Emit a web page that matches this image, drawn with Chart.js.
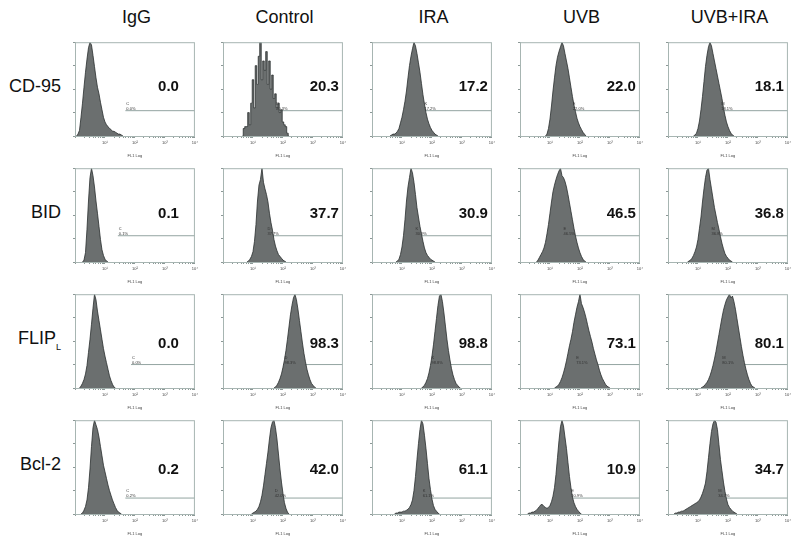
<!DOCTYPE html>
<html>
<head>
<meta charset="utf-8">
<script src="https://cdn.jsdelivr.net/npm/chart.js@4.4.1/dist/chart.umd.min.js"></script>
<style>
  body { margin: 0; background: #fff; }
  #fig { position: relative; width: 800px; height: 540px; font-family: "Liberation Sans", Arial, sans-serif; color: #111; }
  .head { position: absolute; top: 7px; width: 123px; text-align: center; font-size: 18px; line-height: 20px; }
  .rowlab { position: absolute; left: 0; width: 61px; text-align: right; font-size: 18px; line-height: 20px; }
  .rowlab sub { font-size: 9px; vertical-align: -6px; }
  canvas { position: absolute; }
</style>
</head>
<body>
<div id="fig"></div>
<script>
//------------------------ DATA ----------------------------

const columns = ["IgG", "Control", "IRA", "UVB", "UVB+IRA"];
const rowLabels = ["CD-95", "BID", "FLIP<sub>L</sub>", "Bcl-2"];
const gateMarkers = ["C", "D", "K", "E", "M"];

// width of one histogram channel, in log10(FL1) units
const binStep = 0.05;

// percent positive cells (big numbers)
const cd95Pct = ["0.0", "20.3", "17.2", "22.0", "18.1"];
const bidPct = ["0.1", "37.7", "30.9", "46.5", "36.8"];
const flipPct = ["0.0", "98.3", "98.8", "73.1", "80.1"];
const bcl2Pct = ["0.2", "42.0", "61.1", "10.9", "34.7"];

// where the positive gate begins (log10 FL1)
const cd95Gate = [1.68, 1.74, 1.72, 1.73, 1.74];
const bidGate = [1.43, 1.45, 1.42, 1.42, 1.42];
const flipGate = [1.87, 2.02, 1.95, 1.84, 1.78];
const bcl2Gate = [1.68, 1.69, 1.66, 1.68, 1.64];
// gate marker height per row (% of max count)
const gateLevel = [27, 28, 25, 17];

// first channel of each histogram (log10 FL1)
const cd95Start = [0.10, 0.70, 0.65, 0.90, 0.90];
const bidStart = [0.30, 0.85, 0.85, 0.60, 0.70];
const flipStart = [0.20, 1.75, 1.70, 1.20, 1.15];
const bcl2Start = [0.25, 1.00, 0.80, 0.30, 0.25];

// counts per channel (% of max count)
const cd95Counts = [
  [2, 6, 20, 35, 52, 68, 82, 94, 100, 97, 86, 74, 62, 52, 45, 36, 28, 20, 15, 12, 10, 8, 7, 5, 5, 4, 3, 2, 2, 1],
  [8, 10, 10, 25, 12, 35, 60, 30, 75, 55, 85, 100, 60, 80, 70, 90, 55, 80, 50, 65, 40, 45, 30, 35, 25, 28, 15, 12, 10, 3],
  [1, 2, 2, 3, 5, 8, 14, 20, 28, 37, 48, 62, 75, 85, 93, 100, 96, 88, 78, 68, 56, 44, 34, 25, 18, 13, 9, 6, 4, 2, 1],
  [2, 8, 18, 32, 48, 62, 75, 84, 90, 95, 100, 96, 88, 80, 72, 62, 52, 42, 33, 26, 19, 14, 10, 7, 4, 2],
  [1, 3, 8, 16, 28, 42, 58, 74, 86, 95, 100, 96, 88, 80, 72, 64, 56, 48, 40, 30, 22, 15, 10, 6, 3, 1],
];
const bidCounts = [
  [2, 10, 35, 65, 90, 100, 92, 80, 65, 52, 38, 24, 13, 7, 3, 1],
  [1, 3, 6, 11, 22, 40, 65, 82, 88, 100, 85, 78, 72, 64, 52, 42, 34, 24, 17, 12, 8, 6, 4, 2, 1],
  [1, 3, 8, 16, 28, 45, 65, 80, 90, 100, 95, 85, 72, 58, 48, 38, 30, 22, 15, 10, 7, 5, 3, 2, 1],
  [2, 5, 8, 11, 15, 21, 30, 40, 52, 64, 75, 82, 88, 93, 97, 100, 92, 90, 86, 80, 72, 63, 54, 45, 36, 28, 21, 15, 10, 6, 3, 1],
  [1, 2, 4, 7, 11, 16, 24, 36, 48, 64, 78, 90, 98, 100, 88, 78, 68, 58, 50, 42, 35, 27, 20, 14, 9, 6, 4, 2, 1],
];
const flipCounts = [
  [2, 5, 9, 15, 24, 38, 52, 68, 85, 100, 94, 82, 72, 62, 52, 42, 34, 27, 20, 13, 8, 4, 1],
  [1, 3, 6, 10, 15, 22, 30, 40, 52, 65, 78, 88, 96, 100, 94, 84, 72, 60, 48, 37, 28, 20, 14, 9, 5, 3, 1],
  [1, 3, 6, 10, 16, 24, 34, 46, 60, 74, 88, 98, 100, 92, 80, 66, 52, 40, 30, 21, 14, 9, 5, 3, 1],
  [1, 2, 4, 7, 11, 16, 22, 29, 37, 45, 52, 60, 70, 78, 86, 92, 100, 90, 86, 81, 75, 68, 61, 55, 49, 42, 36, 30, 25, 19, 14, 10, 7, 4, 2, 1],
  [1, 2, 4, 6, 9, 13, 18, 24, 31, 39, 48, 57, 66, 75, 83, 89, 94, 97, 100, 96, 98, 92, 84, 74, 64, 54, 44, 35, 27, 20, 14, 9, 5, 2, 1],
];
const bcl2Counts = [
  [1, 4, 8, 15, 28, 48, 72, 92, 100, 95, 90, 82, 72, 62, 52, 45, 38, 31, 25, 20, 15, 11, 7, 4, 2, 1],
  [1, 2, 3, 5, 8, 13, 20, 30, 42, 54, 66, 80, 92, 98, 100, 92, 80, 64, 48, 34, 22, 12, 6, 2],
  [1, 1, 2, 2, 2, 3, 3, 4, 5, 7, 10, 15, 25, 40, 58, 75, 90, 100, 96, 84, 70, 54, 38, 26, 16, 9, 5, 3, 1],
  [1, 1, 2, 2, 3, 4, 6, 8, 10, 10, 8, 7, 6, 7, 9, 13, 19, 28, 42, 60, 78, 93, 100, 94, 82, 70, 55, 40, 28, 18, 12, 8, 5, 3, 1],
  [1, 1, 2, 2, 3, 3, 4, 5, 6, 7, 8, 9, 10, 11, 12, 13, 15, 18, 22, 27, 33, 45, 60, 75, 88, 96, 100, 98, 90, 74, 58, 46, 34, 24, 16, 10, 7, 5, 3, 2, 1],
];

const rowPct = [cd95Pct, bidPct, flipPct, bcl2Pct];
const rowGate = [cd95Gate, bidGate, flipGate, bcl2Gate];
const rowStart = [cd95Start, bidStart, flipStart, bcl2Start];
const rowCounts = [cd95Counts, bidCounts, flipCounts, bcl2Counts];

//------------------------ LAYOUT ----------------------------

const panelLeft = [75, 223, 372, 520, 668];
const panelTop = [38, 164, 290, 416];
const panelW = 123;
const panelH = 98;
const numberY = [0.475, 0.49, 0.525, 0.53]; // fraction down the panel
const boxColor = "#a7b5b2";
const tickColor = "#8c9896";
const gateColor = "#93a4a1";
const fillColor = "#6b6f6f";
const edgeColor = "#2a2e2e";
const sup = ["\u2070", "\u00b9", "\u00b2", "\u00b3", "\u2074"];

const fig = document.getElementById("fig");

columns.forEach((name, c) => {
  const d = document.createElement("div");
  d.className = "head";
  d.style.left = panelLeft[c] + "px";
  d.textContent = name;
  fig.appendChild(d);
});

rowLabels.forEach((name, r) => {
  const d = document.createElement("div");
  d.className = "rowlab";
  d.style.top = (panelTop[r] + panelH * 0.49 - 10) + "px";
  d.innerHTML = name;
  fig.appendChild(d);
});

// box, gate label and big number
const panelDecor = {
  id: "panelDecor",
  afterDatasetsDraw(chart, args, opts) {
    const { ctx, chartArea: a, scales } = chart;
    ctx.save();
    ctx.strokeStyle = boxColor;
    ctx.lineWidth = 1;
    ctx.strokeRect(a.left + 0.5, a.top + 0.5, a.right - a.left - 1, a.bottom - a.top);

    const gx = scales.x.getPixelForValue(opts.gateFrom);
    const gy = scales.y.getPixelForValue(opts.gateLevel);
    ctx.fillStyle = "#333";
    ctx.font = "4px 'Liberation Sans', Arial";
    ctx.textAlign = "left";
    ctx.textBaseline = "alphabetic";
    ctx.fillText(opts.marker, gx + 1, gy - 6);
    ctx.fillText(opts.pct + "%", gx + 1, gy - 1);

    ctx.fillStyle = "#111";
    ctx.font = "bold 15px 'Liberation Sans', Arial";
    ctx.textAlign = "right";
    ctx.textBaseline = "middle";
    const off = opts.col === 0 ? 16 : 4;
    ctx.fillText(opts.pct, a.right - off, a.top + (a.bottom - a.top) * opts.numberY);
    ctx.restore();
  },
};

function makePanel(r, c) {
  const canvas = document.createElement("canvas");
  const w = panelW + 16, h = panelH + 28;
  canvas.width = w;
  canvas.height = h;
  canvas.style.width = w + "px";
  canvas.style.height = h + "px";
  canvas.style.left = panelLeft[c] - 14 + "px";
  canvas.style.top = panelTop[r] - 6 + "px";
  fig.appendChild(canvas);

  const start = rowStart[r][c];
  const counts = rowCounts[r][c];
  const hist = [{ x: start - binStep, y: 0 }]
    .concat(counts.map((v, i) => ({ x: start + i * binStep, y: v })))
    .concat([{ x: start + counts.length * binStep, y: 0 }]);
  const gate = [
    { x: rowGate[r][c], y: gateLevel[r] },
    { x: 4, y: gateLevel[r] },
  ];

  new Chart(canvas.getContext("2d"), {
    type: "line",
    data: {
      datasets: [
        {
          data: hist,
          fill: "origin",
          backgroundColor: fillColor,
          borderColor: edgeColor,
          borderWidth: 0.8,
          pointRadius: 0,
          stepped: r === 0 && c === 1 ? "middle" : false,
        },
        {
          data: gate,
          borderColor: gateColor,
          borderWidth: 1,
          pointRadius: 0,
          fill: false,
        },
      ],
    },
    options: {
      responsive: false,
      animation: false,
      devicePixelRatio: 1,
      events: [],
      layout: { padding: { left: 0, right: 2, top: 6, bottom: 0 } },
      plugins: {
        legend: { display: false },
        tooltip: { enabled: false },
        panelDecor: {
          gateFrom: rowGate[r][c],
          gateLevel: gateLevel[r],
          marker: gateMarkers[c],
          pct: rowPct[r][c],
          col: c,
          numberY: numberY[r],
        },
      },
      scales: {
        x: {
          type: "linear",
          min: 0,
          max: 4,
          grid: { drawOnChartArea: false, drawTicks: true, tickLength: 2, color: tickColor },
          border: { display: true, color: boxColor },
          afterBuildTicks: (scale) => {
            const t = [];
            for (let d = 0; d < 4; d++) for (let k = 1; k < 10; k++) t.push({ value: d + Math.log10(k) });
            t.push({ value: 4 });
            scale.ticks = t;
          },
          ticks: {
            autoSkip: false,
            maxRotation: 0,
            minRotation: 0,
            padding: 2,
            color: "#444",
            font: { size: 4 },
            callback: (v) => (Number.isInteger(v) && v > 0 ? "10" + sup[v] : ""),
          },
          title: { display: true, text: "FL1 Log", color: "#444", font: { size: 4 }, padding: { top: 4, bottom: 0 } },
          afterFit: (scale) => { scale.height = 22; },
        },
        y: {
          min: 0,
          max: 100,
          grid: { drawOnChartArea: false, drawTicks: true, tickLength: 2, color: tickColor },
          border: { display: true, color: boxColor },
          ticks: { stepSize: 12.5, callback: () => "" },
          afterFit: (scale) => { scale.width = 14; },
        },
      },
    },
    plugins: [panelDecor],
  });
}

for (let r = 0; r < rowLabels.length; r++) {
  for (let c = 0; c < columns.length; c++) makePanel(r, c);
}
</script>
</body>
</html>
